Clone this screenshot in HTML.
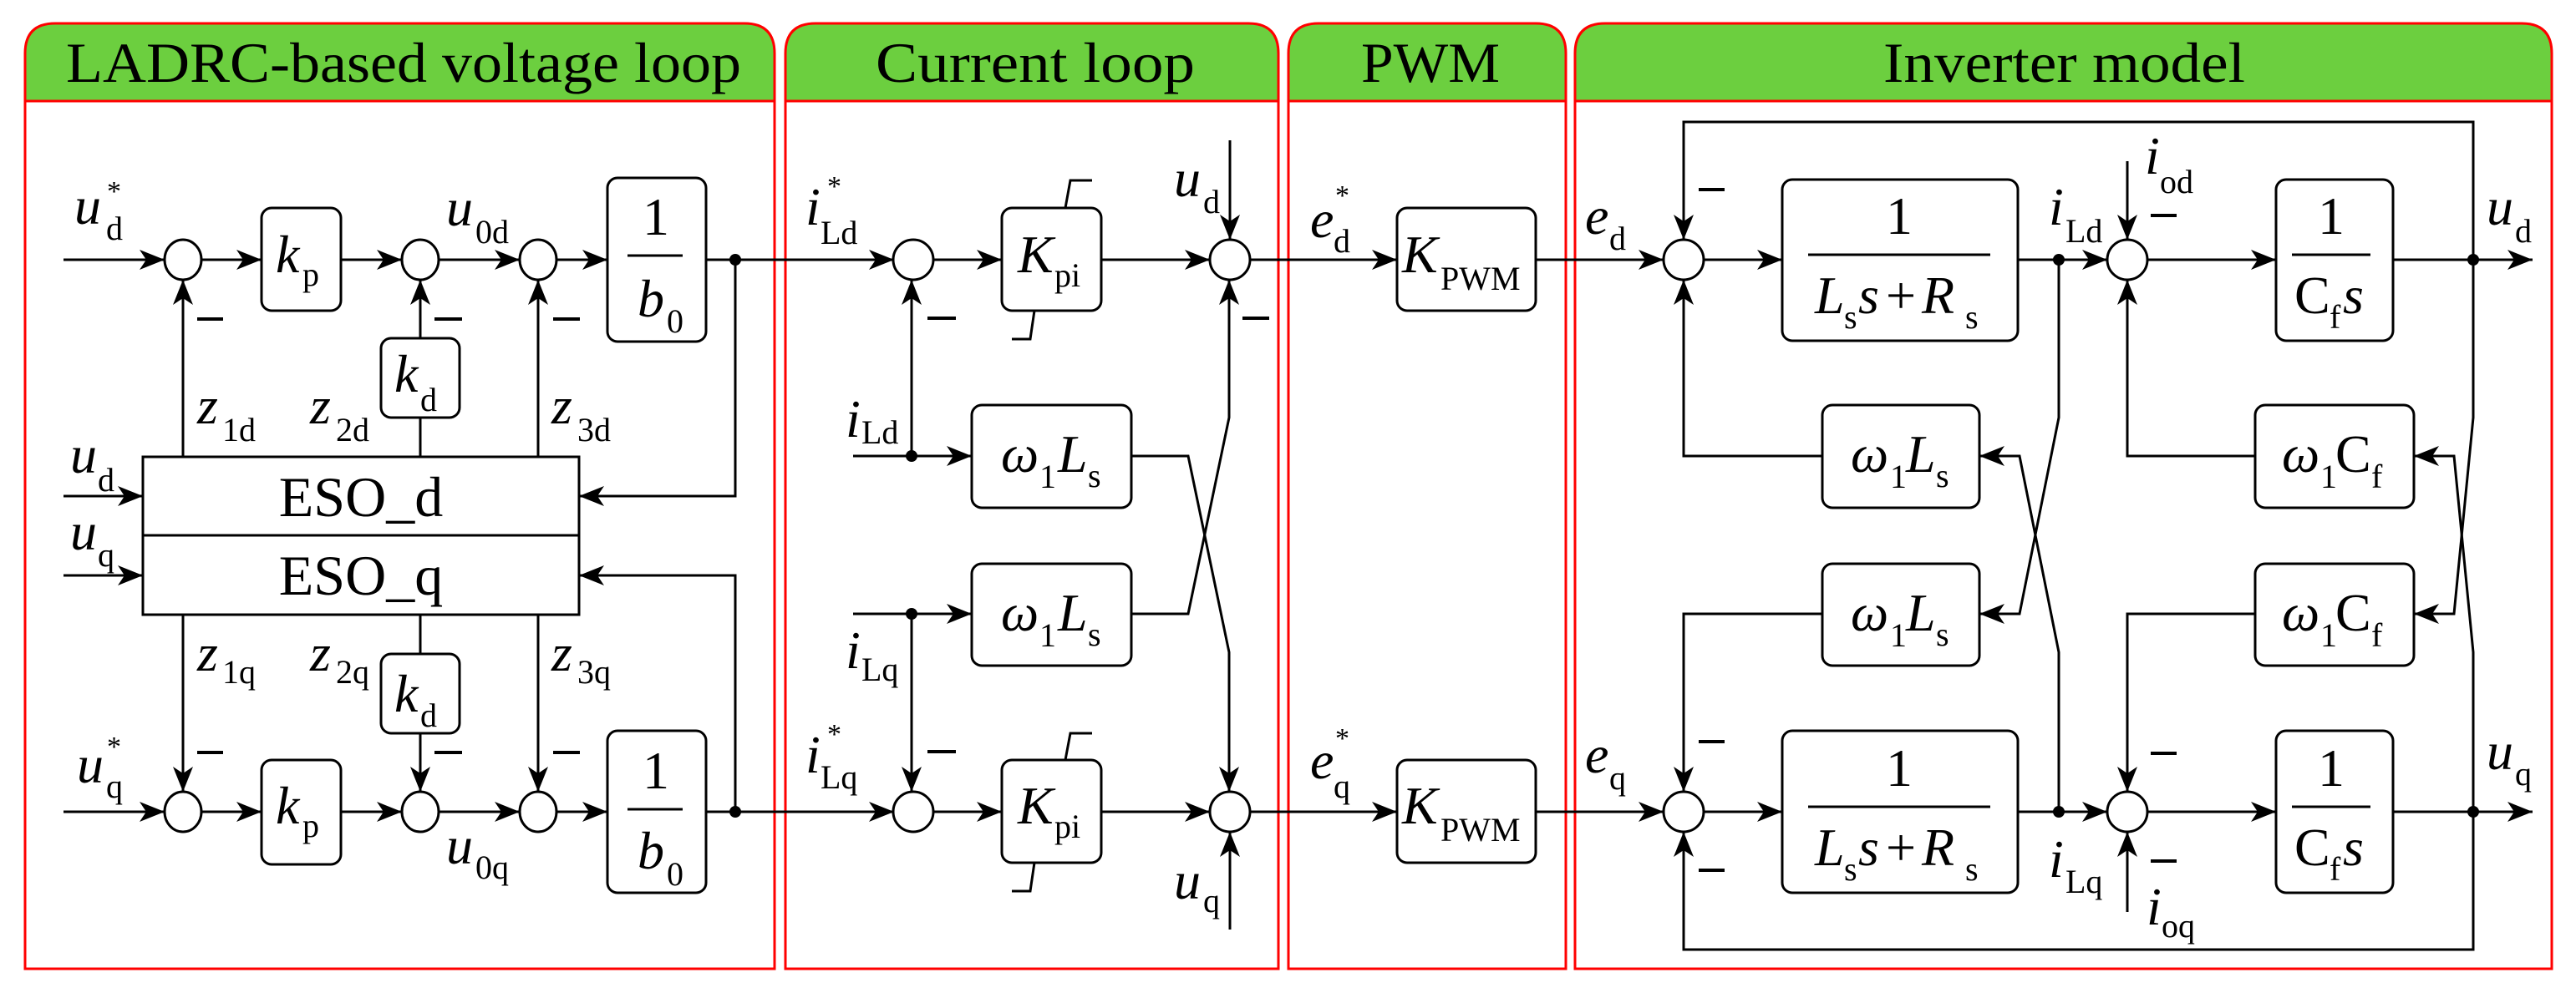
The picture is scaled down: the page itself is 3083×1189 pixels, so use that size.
<!DOCTYPE html>
<html><head><meta charset="utf-8"><style>
html,body{margin:0;padding:0;background:#fff}
svg{display:block}
svg text{font-family:"Liberation Serif","DejaVu Serif",serif;fill:#000}
.v{font-style:italic;font-size:64px}
.n{font-size:64px}
.s{font-size:40px}
.h{font-size:68px}
.st{font-size:34px}
</style></head><body>
<svg width="3083" height="1189" viewBox="0 0 3083 1189" xmlns="http://www.w3.org/2000/svg" font-family="Liberation Serif, serif">
<defs>
<marker id="a" markerUnits="userSpaceOnUse" markerWidth="32" markerHeight="26" refX="30" refY="12" orient="auto">
<path d="M0,0 L30,12 L0,24 L8,12 z" fill="#000"/></marker>
</defs>
<!-- panels -->
<g stroke="#f00" stroke-width="3">
<path d="M30,121 V64 Q30,28 66,28 H891 Q927,28 927,64 V121 Z" fill="#6ccf3f"/>
<path d="M940,121 V64 Q940,28 976,28 H1494 Q1530,28 1530,64 V121 Z" fill="#6ccf3f"/>
<path d="M1542,121 V64 Q1542,28 1578,28 H1838 Q1874,28 1874,64 V121 Z" fill="#6ccf3f"/>
<path d="M1885,121 V64 Q1885,28 1921,28 H3018 Q3054,28 3054,64 V121 Z" fill="#6ccf3f"/>
<path d="M30,121 V1160 H927 V121" fill="none"/>
<path d="M940,121 V1160 H1530 V121" fill="none"/>
<path d="M1542,121 V1160 H1874 V121" fill="none"/>
<path d="M1885,121 V1160 H3054 V121" fill="none"/>
</g>
<text class="h" x="79" y="98" textLength="808" lengthAdjust="spacingAndGlyphs" font-family="Liberation Serif, serif">LADRC-based voltage loop</text>
<text class="h" x="1048" y="98" textLength="382" lengthAdjust="spacingAndGlyphs" font-family="Liberation Serif, serif">Current loop</text>
<text class="h" x="1629" y="98" textLength="166" lengthAdjust="spacingAndGlyphs" font-family="Liberation Serif, serif">PWM</text>
<text class="h" x="2254" y="98" textLength="433" lengthAdjust="spacingAndGlyphs" font-family="Liberation Serif, serif">Inverter model</text>

<g stroke="#000" stroke-width="3" fill="none">
<line x1="76" y1="311" x2="197" y2="311" marker-end="url(#a)"/>
<line x1="241" y1="311" x2="313" y2="311" marker-end="url(#a)"/>
<line x1="408" y1="311" x2="481" y2="311" marker-end="url(#a)"/>
<line x1="525" y1="311" x2="622" y2="311" marker-end="url(#a)"/>
<line x1="666" y1="311" x2="727" y2="311" marker-end="url(#a)"/>
<line x1="845" y1="311" x2="1070" y2="311" marker-end="url(#a)"/>
<polyline points="880,311 880,594 693,594" marker-end="url(#a)"/>
<line x1="219" y1="547" x2="219" y2="335" marker-end="url(#a)"/>
<line x1="503" y1="547" x2="503" y2="500"/>
<line x1="503" y1="405" x2="503" y2="335" marker-end="url(#a)"/>
<line x1="644" y1="547" x2="644" y2="335" marker-end="url(#a)"/>
<line x1="76" y1="594" x2="171" y2="594" marker-end="url(#a)"/>
<line x1="76" y1="689" x2="171" y2="689" marker-end="url(#a)"/>
<line x1="76" y1="972" x2="197" y2="972" marker-end="url(#a)"/>
<line x1="241" y1="972" x2="313" y2="972" marker-end="url(#a)"/>
<line x1="408" y1="972" x2="481" y2="972" marker-end="url(#a)"/>
<line x1="525" y1="972" x2="622" y2="972" marker-end="url(#a)"/>
<line x1="666" y1="972" x2="727" y2="972" marker-end="url(#a)"/>
<line x1="845" y1="972" x2="1070" y2="972" marker-end="url(#a)"/>
<polyline points="880,972 880,689 693,689" marker-end="url(#a)"/>
<line x1="219" y1="736" x2="219" y2="948" marker-end="url(#a)"/>
<line x1="503" y1="736" x2="503" y2="783"/>
<line x1="503" y1="878" x2="503" y2="948" marker-end="url(#a)"/>
<line x1="644" y1="736" x2="644" y2="948" marker-end="url(#a)"/>
<rect x="313" y="249" width="95" height="123" rx="12"/>
<rect x="727" y="213" width="118" height="196" rx="12"/>
<rect x="456" y="405" width="94" height="95" rx="12"/>
<rect x="313" y="910" width="95" height="125" rx="12"/>
<rect x="727" y="875" width="118" height="194" rx="12"/>
<rect x="456" y="783" width="94" height="95" rx="12"/>
<rect x="171" y="547" width="522" height="189"/>
<line x1="171" y1="641" x2="693" y2="641"/>
<line x1="751" y1="306" x2="817" y2="306"/>
<line x1="751" y1="969" x2="817" y2="969"/>

<line x1="1117" y1="311" x2="1199" y2="311" marker-end="url(#a)"/>
<line x1="1318" y1="311" x2="1448" y2="311" marker-end="url(#a)"/>
<line x1="1496" y1="311" x2="1672" y2="311" marker-end="url(#a)"/>
<line x1="1838" y1="311" x2="1991" y2="311" marker-end="url(#a)"/>
<line x1="1472" y1="168" x2="1472" y2="287" marker-end="url(#a)"/>
<line x1="1021" y1="546" x2="1163" y2="546" marker-end="url(#a)"/>
<line x1="1091" y1="546" x2="1091" y2="335" marker-end="url(#a)"/>
<line x1="1021" y1="735" x2="1163" y2="735" marker-end="url(#a)"/>
<line x1="1091" y1="735" x2="1091" y2="948" marker-end="url(#a)"/>
<polyline points="1354,546 1422,546 1471,781 1471,948" marker-end="url(#a)"/>
<polyline points="1354,735 1422,735 1471,500 1471,335" marker-end="url(#a)"/>
<line x1="1117" y1="972" x2="1199" y2="972" marker-end="url(#a)"/>
<line x1="1318" y1="972" x2="1448" y2="972" marker-end="url(#a)"/>
<line x1="1496" y1="972" x2="1672" y2="972" marker-end="url(#a)"/>
<line x1="1838" y1="972" x2="1991" y2="972" marker-end="url(#a)"/>
<line x1="1472" y1="1113" x2="1472" y2="996" marker-end="url(#a)"/>
<rect x="1199" y="249" width="119" height="123" rx="12"/>
<rect x="1199" y="910" width="119" height="123" rx="12"/>
<polyline points="1275,249 1281,216 1307,216"/>
<polyline points="1238,372 1233,406 1211,406"/>
<polyline points="1275,910 1281,878 1307,878"/>
<polyline points="1238,1033 1233,1067 1211,1067"/>
<rect x="1163" y="485" width="191" height="123" rx="12"/>
<rect x="1163" y="675" width="191" height="122" rx="12"/>
<rect x="1672" y="249" width="166" height="123" rx="12"/>
<rect x="1672" y="910" width="166" height="123" rx="12"/>

<line x1="2039" y1="311" x2="2133" y2="311" marker-end="url(#a)"/>
<line x1="2415" y1="311" x2="2522" y2="311" marker-end="url(#a)"/>
<line x1="2570" y1="311" x2="2724" y2="311" marker-end="url(#a)"/>
<line x1="2864" y1="311" x2="3031" y2="311" marker-end="url(#a)"/>
<polyline points="2960,311 2960,146 2015,146 2015,287" marker-end="url(#a)"/>
<line x1="2546" y1="193" x2="2546" y2="287" marker-end="url(#a)"/>
<polyline points="2181,546 2015,546 2015,335" marker-end="url(#a)"/>
<polyline points="2181,735 2015,735 2015,948" marker-end="url(#a)"/>
<polyline points="2464,972 2464,781 2417,546 2369,546" marker-end="url(#a)"/>
<polyline points="2464,311 2464,500 2417,735 2369,735" marker-end="url(#a)"/>
<polyline points="2699,546 2546,546 2546,335" marker-end="url(#a)"/>
<polyline points="2699,735 2546,735 2546,948" marker-end="url(#a)"/>
<polyline points="2960,972 2960,781 2937,546 2889,546" marker-end="url(#a)"/>
<polyline points="2960,311 2960,500 2937,735 2889,735" marker-end="url(#a)"/>
<line x1="2039" y1="972" x2="2133" y2="972" marker-end="url(#a)"/>
<line x1="2415" y1="972" x2="2522" y2="972" marker-end="url(#a)"/>
<line x1="2570" y1="972" x2="2724" y2="972" marker-end="url(#a)"/>
<line x1="2864" y1="972" x2="3031" y2="972" marker-end="url(#a)"/>
<polyline points="2960,972 2960,1137 2015,1137 2015,996" marker-end="url(#a)"/>
<line x1="2546" y1="1092" x2="2546" y2="996" marker-end="url(#a)"/>
<rect x="2133" y="215" width="282" height="193" rx="12"/>
<rect x="2133" y="875" width="282" height="194" rx="12"/>
<rect x="2724" y="215" width="140" height="193" rx="12"/>
<rect x="2724" y="875" width="140" height="194" rx="12"/>
<rect x="2181" y="485" width="188" height="123" rx="12"/>
<rect x="2181" y="675" width="188" height="122" rx="12"/>
<rect x="2699" y="485" width="190" height="123" rx="12"/>
<rect x="2699" y="675" width="190" height="122" rx="12"/>
<line x1="2164" y1="305" x2="2382" y2="305"/>
<line x1="2164" y1="966" x2="2382" y2="966"/>
<line x1="2743" y1="305" x2="2837" y2="305"/>
<line x1="2743" y1="966" x2="2837" y2="966"/>

<g stroke-width="4">
<line x1="236" y1="382" x2="267" y2="382"/><line x1="520" y1="382" x2="553" y2="382"/><line x1="662" y1="382" x2="694" y2="382"/>
<line x1="236" y1="901" x2="267" y2="901"/><line x1="520" y1="901" x2="553" y2="901"/><line x1="662" y1="901" x2="694" y2="901"/>
<line x1="1110" y1="381" x2="1144" y2="381"/><line x1="1487" y1="381" x2="1519" y2="381"/><line x1="1110" y1="900" x2="1144" y2="900"/>
<line x1="2033" y1="227" x2="2064" y2="227"/><line x1="2033" y1="888" x2="2064" y2="888"/><line x1="2033" y1="1042" x2="2064" y2="1042"/>
<line x1="2574" y1="258" x2="2605" y2="258"/><line x1="2574" y1="902" x2="2605" y2="902"/><line x1="2574" y1="1031" x2="2605" y2="1031"/>
</g>
</g>

<g stroke="#000" stroke-width="3" fill="#fff">
<ellipse cx="219" cy="311" rx="22" ry="24"/><ellipse cx="503" cy="311" rx="22" ry="24"/><ellipse cx="644" cy="311" rx="22" ry="24"/>
<ellipse cx="219" cy="972" rx="22" ry="24"/><ellipse cx="503" cy="972" rx="22" ry="24"/><ellipse cx="644" cy="972" rx="22" ry="24"/>
<ellipse cx="1093" cy="311" rx="24" ry="24"/><ellipse cx="1472" cy="311" rx="24" ry="24"/>
<ellipse cx="1093" cy="972" rx="24" ry="24"/><ellipse cx="1472" cy="972" rx="24" ry="24"/>
<ellipse cx="2015" cy="311" rx="24" ry="24"/><ellipse cx="2546" cy="311" rx="24" ry="24"/>
<ellipse cx="2015" cy="972" rx="24" ry="24"/><ellipse cx="2546" cy="972" rx="24" ry="24"/>
</g>
<g fill="#000">
<circle cx="880" cy="311" r="7"/><circle cx="880" cy="972" r="7"/>
<circle cx="1091" cy="546" r="7"/><circle cx="1091" cy="735" r="7"/>
<circle cx="2464" cy="311" r="7"/><circle cx="2464" cy="972" r="7"/>
<circle cx="2960" cy="311" r="7"/><circle cx="2960" cy="972" r="7"/>
</g>

<text class="v" x="89" y="268">u</text><text class="s" x="127" y="287">d</text><text class="st" x="128" y="240">*</text>
<text class="v" x="92" y="937">u</text><text class="s" x="127" y="955">q</text><text class="st" x="128" y="905">*</text>
<text class="v" x="84" y="566">u</text><text class="s" x="117" y="588">d</text>
<text class="v" x="84" y="658">u</text><text class="s" x="117" y="678">q</text>
<text class="v" x="330" y="326">k</text><text class="s" x="362" y="342">p</text>
<text class="v" x="330" y="986">k</text><text class="s" x="362" y="1002">p</text>
<text class="v" x="472" y="469">k</text><text class="s" x="503" y="492">d</text>
<text class="v" x="472" y="852">k</text><text class="s" x="503" y="870">d</text>
<text class="n" x="769" y="281">1</text><text class="v" x="763" y="379">b</text><text class="s" x="798" y="398">0</text>
<text class="n" x="769" y="944">1</text><text class="v" x="763" y="1040">b</text><text class="s" x="798" y="1060">0</text>
<text class="v" x="534" y="270">u</text><text class="s" x="569" y="291">0d</text>
<text class="v" x="534" y="1034">u</text><text class="s" x="569" y="1052">0q</text>
<text class="v" x="236" y="507">z</text><text class="s" x="266" y="528">1d</text>
<text class="v" x="371" y="507">z</text><text class="s" x="402" y="528">2d</text>
<text class="v" x="660" y="507">z</text><text class="s" x="691" y="528">3d</text>
<text class="v" x="236" y="803">z</text><text class="s" x="266" y="818">1q</text>
<text class="v" x="371" y="803">z</text><text class="s" x="402" y="818">2q</text>
<text class="v" x="660" y="803">z</text><text class="s" x="691" y="818">3q</text>
<text class="n" x="432" y="618" text-anchor="middle" style="font-size:68px">ESO_d</text>
<text class="n" x="432" y="712" text-anchor="middle" style="font-size:68px">ESO_q</text>

<text class="v" x="964" y="269">i</text><text class="s" x="982" y="292">Ld</text><text class="st" x="990" y="234">*</text>
<text class="v" x="964" y="925">i</text><text class="s" x="982" y="944">Lq</text><text class="st" x="990" y="890">*</text>
<text class="v" x="1012" y="523">i</text><text class="s" x="1031" y="531">Ld</text>
<text class="v" x="1012" y="800">i</text><text class="s" x="1031" y="815">Lq</text>
<text class="v" x="1218" y="326">K</text><text class="s" x="1262" y="343">pi</text>
<text class="v" x="1218" y="986">K</text><text class="s" x="1262" y="1003">pi</text>
<text class="v" x="1405" y="235">u</text><text class="s" x="1440" y="255">d</text>
<text class="v" x="1405" y="1076">u</text><text class="s" x="1440" y="1092">q</text>
<text class="v" x="1198" y="565">ω</text><text class="s" x="1244" y="584">1</text><text class="v" x="1266" y="565">L</text><text class="s" x="1302" y="583">s</text>
<text class="v" x="1198" y="755">ω</text><text class="s" x="1244" y="774">1</text><text class="v" x="1266" y="755">L</text><text class="s" x="1302" y="773">s</text>
<text class="v" x="1568" y="284">e</text><text class="s" x="1596" y="302">d</text><text class="st" x="1598" y="245">*</text>
<text class="v" x="1568" y="932">e</text><text class="s" x="1596" y="955">q</text><text class="st" x="1598" y="895">*</text>
<text class="v" x="1678" y="326">K</text><text class="s" x="1724" y="347">PWM</text>
<text class="v" x="1678" y="986">K</text><text class="s" x="1724" y="1007">PWM</text>

<text class="v" x="1897" y="280">e</text><text class="s" x="1926" y="299">d</text>
<text class="v" x="1897" y="925">e</text><text class="s" x="1926" y="945">q</text>
<text class="n" x="2273" y="280" text-anchor="middle">1</text>
<text class="n" x="2273" y="941" text-anchor="middle">1</text>
<text class="n" x="2790" y="280" text-anchor="middle">1</text>
<text class="n" x="2790" y="941" text-anchor="middle">1</text>
<text class="v" x="2172" y="375">L</text><text class="s" x="2207" y="393">s</text><text class="v" x="2224" y="375">s</text><text class="n" x="2257" y="375">+</text><text class="v" x="2300" y="375">R</text><text class="s" x="2352" y="393">s</text>
<text class="v" x="2172" y="1036">L</text><text class="s" x="2207" y="1054">s</text><text class="v" x="2224" y="1036">s</text><text class="n" x="2257" y="1036">+</text><text class="v" x="2300" y="1036">R</text><text class="s" x="2352" y="1054">s</text>
<text class="n" x="2746" y="375">C</text><text class="s" x="2788" y="393">f</text><text class="v" x="2804" y="375">s</text>
<text class="n" x="2746" y="1036">C</text><text class="s" x="2788" y="1054">f</text><text class="v" x="2804" y="1036">s</text>
<text class="v" x="2452" y="269">i</text><text class="s" x="2472" y="290">Ld</text>
<text class="v" x="2452" y="1050">i</text><text class="s" x="2472" y="1069">Lq</text>
<text class="v" x="2567" y="208">i</text><text class="s" x="2585" y="231">od</text>
<text class="v" x="2569" y="1107">i</text><text class="s" x="2587" y="1122">oq</text>
<text class="v" x="2976" y="269">u</text><text class="s" x="3010" y="290">d</text>
<text class="v" x="2976" y="921">u</text><text class="s" x="3010" y="940">q</text>
<text class="v" x="2215" y="565">ω</text><text class="s" x="2262" y="584">1</text><text class="v" x="2281" y="565">L</text><text class="s" x="2317" y="583">s</text>
<text class="v" x="2215" y="755">ω</text><text class="s" x="2262" y="774">1</text><text class="v" x="2281" y="755">L</text><text class="s" x="2317" y="773">s</text>
<text class="v" x="2731" y="565">ω</text><text class="s" x="2777" y="584">1</text><text class="n" x="2795" y="565">C</text><text class="s" x="2838" y="584">f</text>
<text class="v" x="2731" y="755">ω</text><text class="s" x="2777" y="774">1</text><text class="n" x="2795" y="755">C</text><text class="s" x="2838" y="774">f</text>
</svg>
</body></html>
